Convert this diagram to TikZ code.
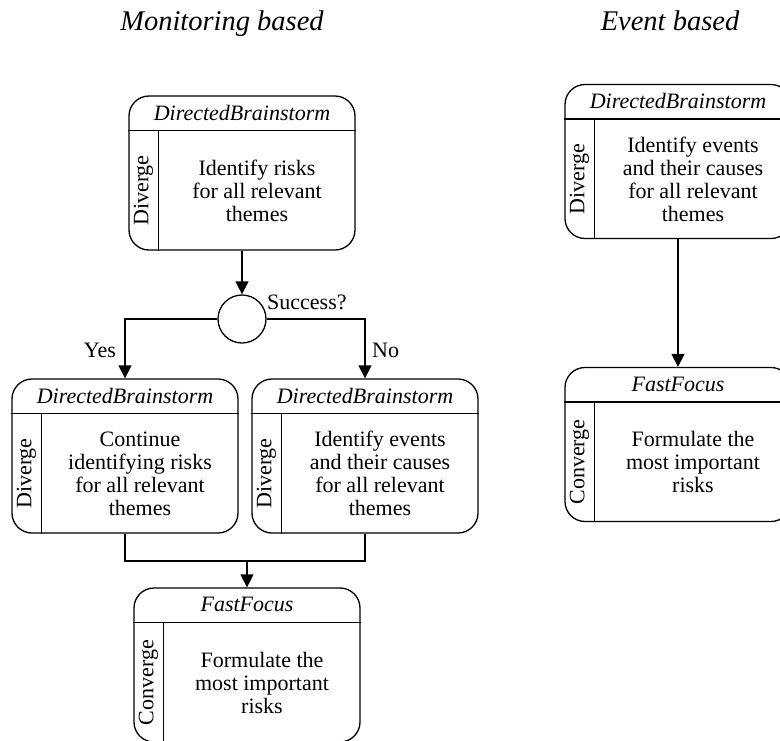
\documentclass[tikz,border=0pt]{standalone}
\usepackage{fontspec}
\setmainfont{Liberation Serif}
\usetikzlibrary{arrows.meta}

% One activity box: rounded frame, header strip with the technique name,
% a narrow side strip with the rotated phase name, and the task text.
\newcommand{\activitybox}[6]{%
  \node[actframe] (#1) at (#2) {};
  \draw[ln] ([yshift=-35pt]#1.north west) -- ([yshift=-35pt]#1.north east);
  \draw[ln] ([xshift=30pt,yshift=-35pt]#1.north west) -- ([xshift=30pt]#1.south west);
  \node[hdrtext] (#1-head) at ([yshift=-17.5pt]#1.north) {#3};
  \node[sidetext] (#1-phase) at ([xshift=15pt,yshift=-17.5pt]#1.west) {#4};
  \node[bodytext] (#1-task) at ([xshift=15pt,yshift=-17.5pt]#1.center) {#5};
}

\tikzset{
  ln/.style={line width=1.3pt},
  actframe/.style={ln, draw, rounded corners=20pt, minimum width=226pt,
    minimum height=154pt, inner sep=0pt},
  txt/.style={font=\fontsize{22}{23}\selectfont, inner sep=0pt},
  hdrtext/.style={txt, font=\fontsize{22}{23}\selectfont\itshape},
  sidetext/.style={txt, rotate=90},
  bodytext/.style={txt, align=center},
  titletext/.style={font=\fontsize{28.5}{30}\selectfont\itshape, inner sep=0pt, anchor=base},
  arr/.style={ln, -{Triangle[width=13pt,length=13pt]}},
  decision/.style={ln, draw, circle, minimum size=48pt, inner sep=0pt},
}

\begin{document}
\begin{tikzpicture}[x=1pt,y=-1pt]
  \useasboundingbox (0,0) rectangle (780,740);
  \clip (0,0) rectangle (780,740);

  % column titles
  \node[titletext] (t-mon) at (222,30) {Monitoring based};
  \node[titletext] (t-evt) at (670,30) {Event based};

  % monitoring based flow
  \activitybox{mtop}{242,173}{DirectedBrainstorm}{Diverge}{Identify risks\\for all relevant\\themes}{}
  \node[decision] (dec) at (242,319) {};
  \node[txt, anchor=west] (succ) at (267,302) {Success?};
  \activitybox{myes}{125,456}{DirectedBrainstorm}{Diverge}{Continue\\identifying risks\\for all relevant\\themes}{}
  \activitybox{mno}{365,456}{DirectedBrainstorm}{Diverge}{Identify events\\and their causes\\for all relevant\\themes}{}
  \activitybox{mff}{247,665}{FastFocus}{Converge}{Formulate the\\most important\\risks}{}
  \node[txt] (lyes) at (100,350) {Yes};
  \node[txt, anchor=west] (lno) at (372,350) {No};

  \draw[arr] (mtop.south) -- (dec.north);
  \draw[arr] (dec.west) -| (myes.north);
  \draw[arr] (dec.east) -| (mno.north);
  \coordinate (join) at (247,561);
  \draw[ln] (myes.south) -- (myes.south |- join) -- (mno.south |- join) -- (mno.south);
  \draw[arr] (join) -- (mff.north);

  % event based flow
  \activitybox{etop}{678,161.5}{DirectedBrainstorm}{Diverge}{Identify events\\and their causes\\for all relevant\\themes}{}
  \activitybox{eff}{678,444.5}{FastFocus}{Converge}{Formulate the\\most important\\risks}{}
  \draw[arr] (etop.south) -- (eff.north);
\end{tikzpicture}
\end{document}
